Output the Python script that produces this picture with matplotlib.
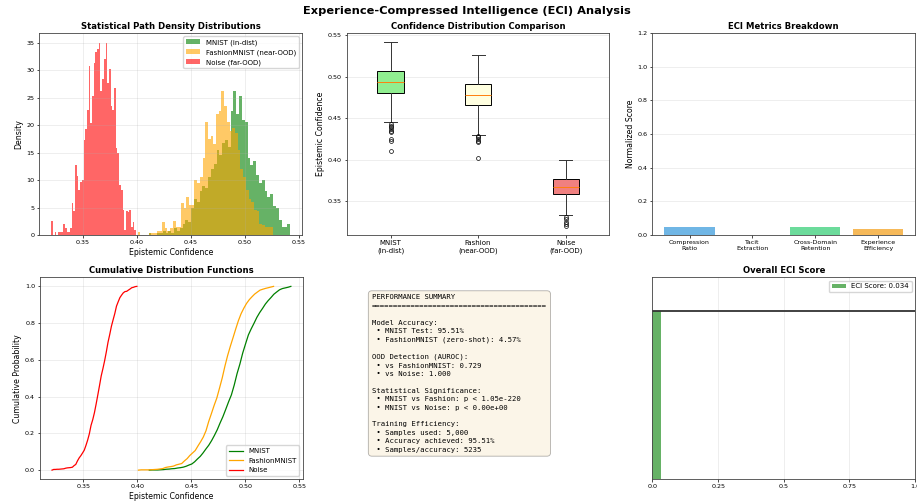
"""ECI analysis dashboard: histograms, box plot, metric bars, CDFs, summary, score."""

import matplotlib
matplotlib.use("Agg")
import matplotlib.pyplot as plt
import numpy as np

# ---------------------------------------------------------------------------
# Data
# ---------------------------------------------------------------------------
# histogram densities, 50 bins per dataset, over the observed range
mnist_range = (0.411, 0.542)
mnist_density = [
    0.4, 0.0, 0.0, 0.4, 0.4, 0.8, 0.4, 0.8, 0.4, 1.2,
    0.8, 1.2, 2.0, 2.8, 2.4, 5.0, 6.5, 6.0, 8.0, 9.0,
    8.5, 10.5, 12.0, 13.0, 15.5, 14.5, 16.8, 17.2, 16.0, 22.5,
    26.2, 22.0, 25.3, 21.0, 20.5, 14.0, 12.8, 13.5, 11.0, 9.5,
    10.0, 8.0, 7.0, 7.5, 5.2, 5.0, 2.8, 1.5, 1.5, 2.0,
]
fashion_range = (0.401, 0.526)
fashion_density = [
    0.6, 0.0, 0.0, 0.0, 0.4, 0.4, 0.4, 0.8, 0.8, 2.4,
    1.2, 0.8, 1.2, 2.6, 1.5, 1.5, 5.8, 5.0, 7.0, 5.5,
    5.5, 10.0, 9.5, 10.5, 14.0, 20.5, 17.5, 18.0, 16.5, 22.0,
    22.5, 26.2, 23.5, 20.5, 19.0, 19.5, 18.5, 15.5, 12.0, 10.5,
    8.2, 6.5, 6.0, 4.5, 4.3, 2.0, 1.8, 1.5, 1.5, 1.5,
]
noise_range = (0.321, 0.3995)
noise_density = [
    2.5, 0.0, 0.6, 0.0, 0.6, 0.6, 0.6, 2.0, 1.2, 0.6,
    0.6, 1.2, 5.8, 4.3, 12.8, 10.8, 8.2, 9.7, 10.0, 17.3,
    19.2, 22.8, 30.7, 20.4, 25.3, 31.3, 33.2, 33.8, 35.0, 26.2,
    28.3, 32.0, 35.0, 27.7, 30.1, 23.4, 22.8, 26.8, 15.8, 15.0,
    9.1, 8.2, 4.6, 0.9, 4.4, 4.1, 4.6, 1.5, 2.4, 0.9,
]

# box plot statistics
box_labels = ["MNIST\n(in-dist)", "Fashion\n(near-OOD)", "Noise\n(far-OOD)"]
box_colors = ["lightgreen", "lightyellow", "lightcoral"]
box_q1 = [0.481, 0.466, 0.359]
box_med = [0.494, 0.478, 0.367]
box_q3 = [0.507, 0.491, 0.376]
box_lo = [0.445, 0.430, 0.333]
box_hi = [0.542, 0.526, 0.399]
box_fliers = [
    [0.443, 0.441, 0.439, 0.437, 0.435, 0.433, 0.425, 0.422, 0.411],
    [0.428, 0.427, 0.425, 0.423, 0.421, 0.402],
    [0.331, 0.328, 0.325, 0.322, 0.320],
]

# ECI metrics
metric_names = ["Compression\nRatio", "Tacit\nExtraction",
                "Cross-Domain\nRetention", "Experience\nEfficiency"]
metric_values = [0.048, 0.0, 0.048, 0.038]
metric_colors = ["#3498db", "#e74c3c", "#2ecc71", "#f39c12"]

eci_score = 0.034

summary_text = (
    "PERFORMANCE SUMMARY\n"
    "========================================\n"
    "\n"
    "Model Accuracy:\n"
    " \u2022 MNIST Test: 95.51%\n"
    " \u2022 FashionMNIST (zero-shot): 4.57%\n"
    "\n"
    "OOD Detection (AUROC):\n"
    " \u2022 vs FashionMNIST: 0.729\n"
    " \u2022 vs Noise: 1.000\n"
    "\n"
    "Statistical Significance:\n"
    " \u2022 MNIST vs Fashion: p < 1.05e-220\n"
    " \u2022 MNIST vs Noise: p < 0.00e+00\n"
    "\n"
    "Training Efficiency:\n"
    " \u2022 Samples used: 5,000\n"
    " \u2022 Accuracy achieved: 95.51%\n"
    " \u2022 Samples/accuracy: 5235"
)

# ---------------------------------------------------------------------------
# Style (sizes tuned for a small 917x504 canvas)
# ---------------------------------------------------------------------------
plt.rcParams.update({
    "font.size": 5.0,
    "axes.linewidth": 0.6,
    "axes.edgecolor": "#444444",
    "xtick.labelsize": 4.6,
    "ytick.labelsize": 4.6,
    "xtick.major.size": 1.8,
    "ytick.major.size": 1.8,
    "xtick.major.width": 0.5,
    "ytick.major.width": 0.5,
    "xtick.major.pad": 1.8,
    "ytick.major.pad": 1.8,
    "axes.labelsize": 5.6,
    "axes.labelpad": 2.0,
    "axes.titlesize": 6.1,
    "axes.titleweight": "bold",
    "axes.titlepad": 3.0,
    "legend.fontsize": 5.0,
    "grid.linewidth": 0.5,
    "lines.linewidth": 0.5,
})


def edges_for(rng, n):
    return np.linspace(rng[0], rng[1], n + 1)


def main():
    fig = plt.figure(figsize=(9.17, 5.04), dpi=100)
    w, h = 0.2865, 0.401
    x_cols = [0.0429, 0.3781, 0.7115]
    y_rows = [0.5337, 0.0490]
    ax_hist = fig.add_axes([x_cols[0], y_rows[0], w, h])
    ax_box = fig.add_axes([x_cols[1], y_rows[0], w, h])
    ax_bar = fig.add_axes([x_cols[2], y_rows[0], w, h])
    ax_cdf = fig.add_axes([x_cols[0] + 0.0008, y_rows[1], w, h])
    ax_txt = fig.add_axes([x_cols[1], y_rows[1], w, h])
    ax_eci = fig.add_axes([x_cols[2], y_rows[1], w, h])

    fig.text(0.509, 0.978, "Experience-Compressed Intelligence (ECI) Analysis",
             ha="center", va="center", fontsize=8.2, fontweight="bold")

    series = [
        ("MNIST (in-dist)", "MNIST", mnist_range, mnist_density, "green"),
        ("FashionMNIST (near-OOD)", "FashionMNIST", fashion_range, fashion_density, "orange"),
        ("Noise (far-OOD)", "Noise", noise_range, noise_density, "red"),
    ]

    # ── Density histograms ───────────────────────────────────────────────
    for label, _, rng, dens, color in series:
        edges = edges_for(rng, len(dens))
        ax_hist.hist(edges[:-1], bins=edges, weights=dens, color=color,
                     alpha=0.6, label=label)
    ax_hist.set_title("Statistical Path Density Distributions")
    ax_hist.set_xlabel("Epistemic Confidence")
    ax_hist.set_ylabel("Density")
    ax_hist.legend(loc="upper right")
    ax_hist.grid(True, alpha=0.3)

    # ── Box plot ────────────────────────────────────────────────────────
    stats = []
    for i in range(3):
        stats.append(dict(q1=box_q1[i], med=box_med[i], q3=box_q3[i],
                          whislo=box_lo[i], whishi=box_hi[i],
                          fliers=box_fliers[i], label=box_labels[i]))
    bp = ax_box.bxp(stats, patch_artist=True,
                    boxprops=dict(linewidth=0.7),
                    whiskerprops=dict(linewidth=0.7, color="#333333"),
                    capprops=dict(linewidth=0.7, color="#333333"),
                    medianprops=dict(linewidth=0.7),
                    flierprops=dict(markersize=2.8, markeredgewidth=0.5))
    for patch, color in zip(bp["boxes"], box_colors):
        patch.set_facecolor(color)
    ax_box.set_title("Confidence Distribution Comparison")
    ax_box.set_ylabel("Epistemic Confidence")
    ax_box.set_yticks([0.35, 0.40, 0.45, 0.50, 0.55])
    ax_box.tick_params(axis="x", labelsize=5.0)
    ax_box.grid(True, alpha=0.3, axis="y")

    # ── ECI metric bars ─────────────────────────────────────────────────
    ax_bar.bar(metric_names, metric_values, color=metric_colors, alpha=0.7)
    ax_bar.set_ylim(0, 1.2)
    ax_bar.set_title("ECI Metrics Breakdown")
    ax_bar.set_ylabel("Normalized Score")
    ax_bar.tick_params(axis="x", labelsize=4.5)
    ax_bar.grid(True, alpha=0.3, axis="y")

    # ── CDFs ────────────────────────────────────────────────────────────
    for _, name, rng, dens, color in series:
        edges = edges_for(rng, len(dens))
        mass = np.asarray(dens) * np.diff(edges)
        cdf = np.concatenate([[0.0], np.cumsum(mass) / mass.sum()])
        ax_cdf.plot(edges, cdf, color=color, linewidth=0.9, label=name)
    ax_cdf.set_title("Cumulative Distribution Functions")
    ax_cdf.set_xlabel("Epistemic Confidence")
    ax_cdf.set_ylabel("Cumulative Probability")
    ax_cdf.set_xlim(ax_hist.get_xlim())
    ax_cdf.legend(loc="lower right")
    ax_cdf.grid(True, alpha=0.3)

    # ── Summary text ────────────────────────────────────────────────────
    ax_txt.axis("off")
    ax_txt.text(0.096, 0.915, summary_text, transform=ax_txt.transAxes,
                fontsize=5.2, family="DejaVu Sans Mono", va="top", ha="left",
                linespacing=1.48,
                bbox=dict(boxstyle="round,pad=0.5", facecolor="wheat",
                          alpha=0.3, linewidth=0.6))

    # ── Overall ECI score ───────────────────────────────────────────────
    ax_eci.barh(0, eci_score, height=1.0, color="green", alpha=0.6,
                label=f"ECI Score: {eci_score:.3f}")
    ax_eci.axhline(0.5, color="#333333", linewidth=1.3)
    ax_eci.set_xlim(0, 1)
    ax_eci.set_ylim(-0.5, 0.7)
    ax_eci.set_xticks([0, 0.25, 0.5, 0.75, 1.0])
    ax_eci.set_xticklabels(["0.0", "0.25", "0.5", "0.75", "1.0"])
    ax_eci.set_yticks([])
    ax_eci.set_title("Overall ECI Score")
    ax_eci.legend(loc="upper right")
    ax_eci.grid(True, alpha=0.3, axis="x")

    fig.savefig("out.png", dpi=100)
    plt.close(fig)


if __name__ == "__main__":
    main()
